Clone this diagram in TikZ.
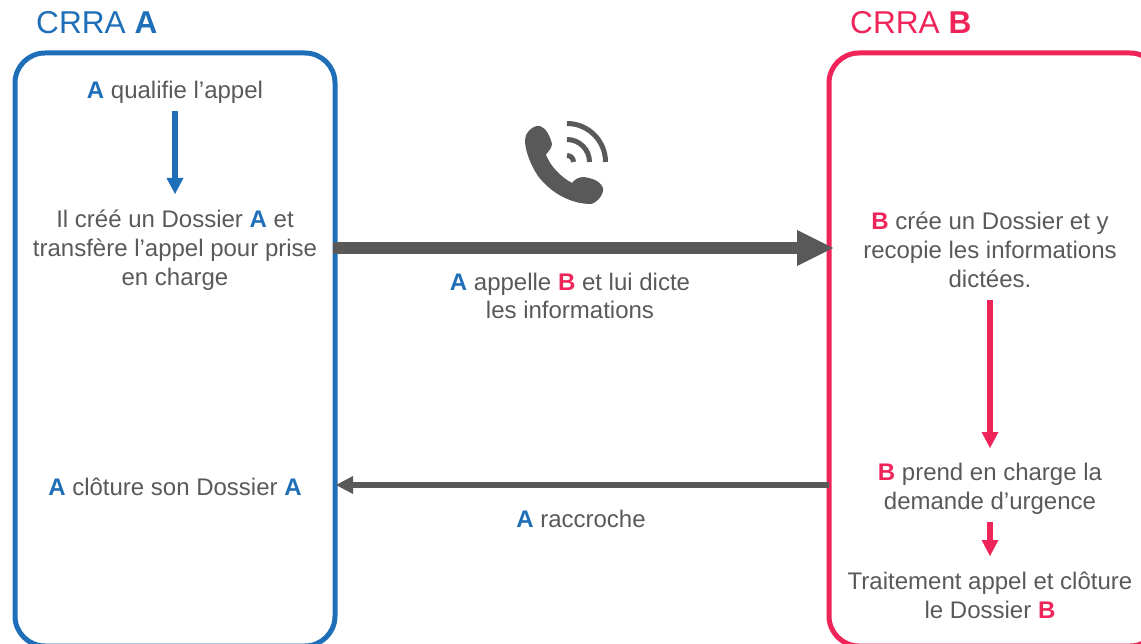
\documentclass[tikz,border=0pt]{standalone}
\usepackage{fontspec}
\setmainfont{Liberation Sans}
\usetikzlibrary{arrows.meta}
\usetikzlibrary{positioning}
\definecolor{crraA}{HTML}{1F6FB8}
\definecolor{crraB}{HTML}{EF2459}
\definecolor{textgray}{HTML}{595959}
\newcommand{\A}{\textbf{\textcolor{crraA}{A}}}
\newcommand{\B}{\textbf{\textcolor{crraB}{B}}}
\tikzset{x=1pt, y=-1pt}
\tikzset{txt/.style = {text=textgray, font=\fontsize{24}{28.8}\selectfont, align=center, inner sep=0}}
\tikzset{title/.style = {font=\fontsize{31.6}{34}\selectfont, anchor=base west, inner sep=0}}
\tikzset{crra/.style = {line width=5, rounded corners=30}}
\tikzset{steparrow/.style = {line width=5.5, -{Triangle[length=16, width=17, line width=0]}}}
\tikzset{callarrow/.style = {draw=textgray, -{Triangle[length=36, width=36, line width=0]}, line width=12}}
\tikzset{hangarrow/.style = {draw=textgray, -{Triangle[length=17, width=18, line width=0]}, line width=6}}
\begin{document}
\begin{tikzpicture}
      \useasboundingbox (0, 0) rectangle (1141, 644);
      \clip (0, 0) rectangle (1141, 644);

      % boxes
      \draw [crra, draw=crraA] (15, 53) rectangle (335, 646);
      \draw [crra, draw=crraB] (829, 53) rectangle (1160, 646);
      \node [title, text=crraA] (titleA) at (36, 34) {CRRA \textbf{A}};
      \node [title, text=crraB] (titleB) at (850, 34) {CRRA \textbf{B}};

      % left column
      \node [txt] (qualif) at (175, 92) {\A{} qualifie l’appel};
      \node [txt] (dossierA) at (175, 250) {Il créé un Dossier \A{} et\\transfère l’appel pour prise\\en charge};
      \node [txt] (clotureA) at (175, 487) {\A{} clôture son Dossier \A};

      % right column
      \node [txt] (dossierB) at (990, 249.5) {\B{} crée un Dossier et y\\recopie les informations\\dictées.};
      \node [txt] (prise) at (990, 489) {\B{} prend en charge la\\demande d’urgence};
      \node [txt] (traitement) at (990, 595) {Traitement appel et clôture\\le Dossier \B};

      % labels in the middle
      \node [txt] (dicte) at (570, 296) {\A{} appelle \B{} et lui dicte\\les informations};
      \node [txt] (raccroche) at (581, 519) {\A{} raccroche};

      % end points
      \coordinate (a1) at (175, 111);
      \coordinate (a2) at (175, 194);
      \coordinate (b1) at (990, 300);
      \coordinate (b2) at (990, 448);
      \coordinate (b3) at (990, 522);
      \coordinate (b4) at (990, 556);
      \coordinate (c1) at (333, 248);
      \coordinate (c2) at (833, 248);
      \coordinate (r1) at (829, 485);
      \coordinate (r2) at (336, 485);

      \draw [steparrow, draw=crraA, fill=crraA] (a1) -- (a2);
      \draw [steparrow, draw=crraB, fill=crraB] (b1) -- (b2);
      \draw [steparrow, draw=crraB, fill=crraB] (b3) -- (b4);
      \draw [callarrow, fill=textgray] (c1) -- (c2);
      \draw [hangarrow, fill=textgray] (r1) -- (r2);

      % phone
      \fill [textgray] (526, 135) .. controls (529, 129) and (535, 125) .. (540, 126)
        .. controls (546, 128) and (550, 136) .. (552, 144)
        .. controls (552, 149) and (547, 152) .. (546, 155)
        .. controls (551, 167) and (561, 177) .. (572, 183)
        .. controls (575, 179) and (579, 177) .. (584, 177)
        .. controls (590, 178) and (600, 180) .. (603, 188)
        .. controls (604, 194) and (598, 202) .. (591, 204)
        .. controls (570, 204) and (550, 192) .. (538, 176)
        .. controls (530, 164) and (525, 150) .. (525, 140) -- cycle;
      \draw [textgray, line width=5] (567, 155.5) arc (-90:0:6.5);
      \draw [textgray, line width=5] (567, 139.5) arc (-90:0:22.5);
      \draw [textgray, line width=5] (567, 123.5) arc (-90:0:38.5);
    \end{tikzpicture}
\end{document}
